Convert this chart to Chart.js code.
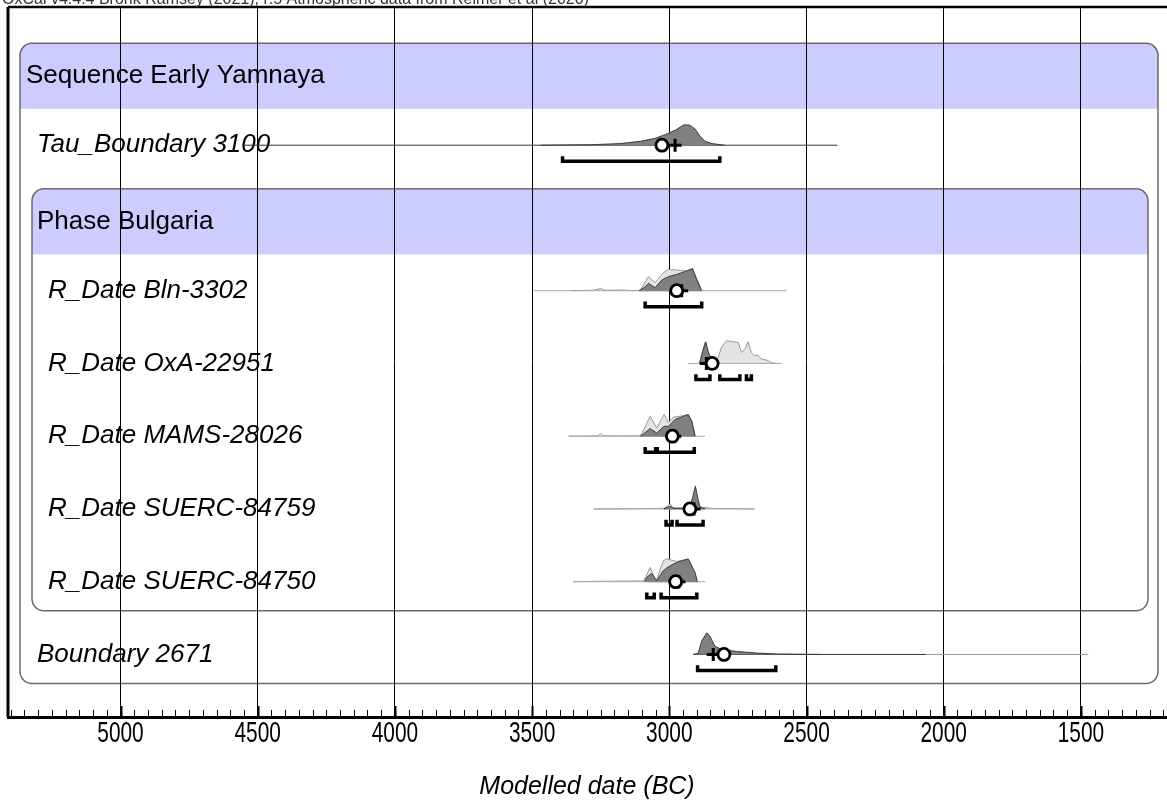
<!DOCTYPE html>
<html>
<head>
<meta charset="utf-8">
<script src="https://cdn.jsdelivr.net/npm/chart.js@4.4.1/dist/chart.umd.min.js"></script>
<style>
  html, body { margin: 0; padding: 0; background: #fff; overflow: hidden; }
  #wrap { position: relative; width: 1167px; height: 803px; }
</style>
</head>
<body>
<div id="wrap"><canvas id="chart" width="1167" height="803"></canvas></div>
<script>
// --- data (years BC, relative probability 0..1) ---
const caption = "OxCal v4.4.4 Bronk Ramsey (2021); r:5 Atmospheric data from Reimer et al (2020)";
const xTitle = "Modelled date (BC)";
const xTicks = [5000, 4500, 4000, 3500, 3000, 2500, 2000, 1500];

const rowNames = [
  "Sequence Early Yamnaya",
  "Tau_Boundary 3100",
  "Phase Bulgaria",
  "R_Date Bln-3302",
  "R_Date OxA-22951",
  "R_Date MAMS-28026",
  "R_Date SUERC-84759",
  "R_Date SUERC-84750",
  "Boundary 2671"
];
const rowKinds = ["group", "item", "group", "item", "item", "item", "item", "item", "item"];
const rowIndent = [0, 1, 1, 2, 2, 2, 2, 2, 1];

// Tau_Boundary 3100
const tauPost = [[3469,0],[3288,0.02],[3179,0.07],[3106,0.17],[3052,0.3],[3015,0.46],[2979,0.65],[2946,0.89],[2925,0.87],[2906,0.7],[2888,0.39],[2870,0.17],[2845,0.07],[2798,0]];
const tauSpan = [4555, 2388];
const tauRange = [[3389, 2816]];
const tauMeanMedian = [3027, 2979];

// R_Date Bln-3302
const blnLike = [[3354,0],[3280,0.02],[3260,0.06],[3251,0.1],[3235,0.02],[3168,0.03],[3130,0],[3106,0.02],[3076,0.61],[3052,0.35],[3022,0.78],[3003,0.93],[2973,0.9],[2937,0.86],[2918,0.96],[2896,0.4],[2882,0]];
const blnPost = [[3110,0],[3090,0.15],[3076,0.32],[3052,0.13],[3027,0.47],[3003,0.61],[2973,0.71],[2937,0.86],[2915,0.96],[2900,0.48],[2882,0]];
const blnSpan = [3495, 2572];
const blnRange = [[3088, 2882]];
const blnMeanMedian = [2973, 2955];

// R_Date OxA-22951
const oxaLike = [[2890,0],[2879,0.5],[2870,0.9],[2860,0.5],[2846,0.15],[2828,0.04],[2810,0.7],[2791,0.99],[2773,0.96],[2749,0.91],[2737,0.48],[2725,0.61],[2713,0.94],[2701,0.48],[2689,0.33],[2677,0.36],[2664,0.19],[2644,0.14],[2628,0.04],[2610,0]];
const oxaPost = [[2890,0],[2879,0.5],[2867,0.94],[2858,0.5],[2846,0.17],[2830,0]];
const oxaSpan = [2932, 2591];
const oxaRange = [[2903, 2852], [2816, 2743], [2719, 2701]];
const oxaMeanMedian = [2844, 2865];

// R_Date MAMS-28026
const mamsLike = [[3367,0],[3290,0.01],[3260,0.02],[3251,0.12],[3240,0.02],[3190,0.01],[3110,0.02],[3100,0.1],[3070,0.87],[3046,0.36],[3019,0.94],[3003,0.58],[2985,0.83],[2961,0.87],[2931,0.94],[2918,0.65],[2906,0]];
const mamsPost = [[3105,0],[3094,0.1],[3070,0.33],[3046,0.14],[3019,0.43],[3003,0.43],[2979,0.73],[2931,0.94],[2918,0.65],[2906,0]];
const mamsSpan = [3367, 2870];
const mamsRange = [[3088, 3050], [3044, 2909]];
const mamsMeanMedian = [2989, 2980];

// R_Date SUERC-84759
const s759Like = [[3276,0],[3090,0.01],[3020,0.03],[3005,0.15],[2997,0.22],[2988,0.08],[2975,0.03],[2950,0.05],[2925,0.15],[2905,0.3],[2888,0.08],[2840,0.02],[2689,0]];
const s759Post = [[3020,0],[2997,0.12],[2985,0.03],[2940,0.03],[2925,0.12],[2915,0.5],[2905,0.99],[2895,0.4],[2888,0.08],[2870,0]];
const s759Span = [3276, 2689];
const s759Range = [[3012, 2990], [2972, 2877]];
const s759MeanMedian = [2925, 2910];

// R_Date SUERC-84750
const s750Like = [[3351,0],[3240,0.02],[3094,0.03],[3082,0.3],[3070,0.62],[3052,0.12],[3046,0.1],[3022,0.91],[3009,0.99],[2973,0.88],[2931,0.99],[2913,0.48],[2900,0]];
const s750Post = [[3090,0],[3082,0.19],[3064,0.36],[3046,0.04],[3022,0.48],[3003,0.65],[2973,0.84],[2931,0.99],[2906,0.4],[2898,0]];
const s750Span = [3351, 2870];
const s750Range = [[3082, 3055], [3030, 2900]];
const s750MeanMedian = [2977, 2965];

// Boundary 2671
const bndPost = [[2913,0],[2895,0.05],[2882,0.58],[2864,0.94],[2852,0.8],[2834,0.36],[2810,0.22],[2755,0.13],[2682,0.06],[2610,0.02],[2450,0]];
const bndSpan = [2913, 2065, 1473];
const bndRange = [[2897, 2612]];
const bndMeanMedian = [2801, 2840];

// --- styling ---
const FONT = '"Liberation Sans", Arial, sans-serif';
const PEAK = 0.316;     // height of a full peak, in rows
const BAR_Y = 0.22;     // bracket offset below baseline, in rows
const CAP_Y = 0.15;
const LIGHT = "#e4e4e4", LIGHT_EDGE = "#9a9a9a";
const DARK = "#808080", DARK_EDGE = "#3a3a3a";

const datasets = [];
const pts = (arr, row) => arr.map(([x, p]) => ({ x: x, y: row - p * PEAK }));

function addLine(from, to, row, color) {
  datasets.push({ data: [{ x: from, y: row }, { x: to, y: row }], borderColor: color,
    borderWidth: 1, pointRadius: 0, order: 5 });
}
function addDensity(arr, row, fill, edge, order) {
  datasets.push({ data: pts(arr, row), borderColor: edge, backgroundColor: fill,
    borderWidth: 1, pointRadius: 0, fill: { value: row }, order: order });
}
function addRange(ranges, row) {
  const d = [];
  ranges.forEach(([a, b]) => {
    d.push({ x: a, y: row + CAP_Y }, { x: a, y: row + BAR_Y }, { x: b, y: row + BAR_Y }, { x: b, y: row + CAP_Y }, { x: b, y: null });
  });
  datasets.push({ data: d, borderColor: "#000", borderWidth: 3.5, pointRadius: 0,
    borderJoinStyle: "miter", borderCapStyle: "butt", order: 3 });
}
function addMarks(mm, row) {
  datasets.push({ data: [{ x: mm[1], y: row }], showLine: false, pointStyle: "cross",
    pointRadius: 6.5, pointBorderWidth: 3, pointBorderColor: "#000", order: 2 });
  datasets.push({ data: [{ x: mm[0], y: row }], showLine: false, pointStyle: "circle",
    pointRadius: 6, pointBorderWidth: 2.8, pointBorderColor: "#000",
    pointBackgroundColor: "#fff", order: 1 });
}

// Tau boundary
addLine(tauSpan[0], tauSpan[1], 1, "#333");
addDensity(tauPost, 1, DARK, DARK_EDGE, 4);
addRange(tauRange, 1);
addMarks(tauMeanMedian, 1);

// R_Dates
[[blnLike, blnPost, blnSpan, blnRange, blnMeanMedian, 3],
 [oxaLike, oxaPost, oxaSpan, oxaRange, oxaMeanMedian, 4],
 [mamsLike, mamsPost, mamsSpan, mamsRange, mamsMeanMedian, 5],
 [s759Like, s759Post, s759Span, s759Range, s759MeanMedian, 6],
 [s750Like, s750Post, s750Span, s750Range, s750MeanMedian, 7]
].forEach(([like, post, span, range, mm, row]) => {
  addLine(span[0], span[1], row, "#aaa");
  addLine(post[0][0], post[post.length - 1][0], row, "#555");
  addDensity(like, row, LIGHT, LIGHT_EDGE, 6);
  addDensity(post, row, DARK, DARK_EDGE, 4);
  addRange(range, row);
  addMarks(mm, row);
});

// end boundary
addLine(bndSpan[0], bndSpan[1], 8, "#333");
addLine(bndSpan[1], bndSpan[2], 8, "#999");
addDensity(bndPost, 8, DARK, DARK_EDGE, 4);
addRange(bndRange, 8);
addMarks(bndMeanMedian, 8);

// boxes, labels, frame, minor ticks and the narrow tick labels
const oxcalPlugin = {
  id: "oxcal",
  beforeDraw(chart) {
    const { ctx, chartArea: a, scales: { y } } = chart;
    const box = (r0, r1, inL, inR) => {
      const top = y.getPixelForValue(r0 - 0.4), band = y.getPixelForValue(r0 + 0.5);
      const bot = y.getPixelForValue(r1 + 0.4);
      const l = a.left + inL, r = a.right - inR;
      ctx.save();
      ctx.beginPath();
      ctx.roundRect(l, top, r - l, bot - top, 12);
      ctx.fillStyle = "#fff";
      ctx.fill();
      ctx.clip();
      ctx.fillStyle = "#ccccff";
      ctx.fillRect(l, top, r - l, band - top);
      ctx.restore();
      ctx.save();
      ctx.beginPath();
      ctx.roundRect(l, top, r - l, bot - top, 12);
      ctx.strokeStyle = "#6a6a6a";
      ctx.lineWidth = 1.5;
      ctx.stroke();
      ctx.restore();
    };
    box(0, 8, 12, 8);
    box(2, 7, 24, 18);
  },
  beforeDatasetsDraw(chart) {
    const { ctx, chartArea: a, scales: { y } } = chart;
    ctx.save();
    ctx.fillStyle = "#000";
    ctx.textAlign = "left";
    ctx.textBaseline = "middle";
    rowNames.forEach((name, i) => {
      const group = rowKinds[i] === "group";
      const yy = group ? (y.getPixelForValue(i - 0.4) + y.getPixelForValue(i + 0.5)) / 2 : y.getPixelForValue(i);
      ctx.font = (group ? "" : "italic ") + "26px " + FONT;
      ctx.fillText(name, a.left + 18 + rowIndent[i] * 11, yy);
    });
    ctx.restore();
  },
  afterDraw(chart) {
    const { ctx, chartArea: a, scales: { x } } = chart;
    ctx.save();
    ctx.strokeStyle = "#000";
    ctx.lineWidth = 3;
    ctx.beginPath();
    ctx.moveTo(a.left, a.bottom);
    ctx.lineTo(a.left, a.top);
    ctx.stroke();
    ctx.lineWidth = 2.5;
    ctx.beginPath();
    ctx.moveTo(a.left, a.top);
    ctx.lineTo(a.right + 2, a.top);
    ctx.stroke();
    for (let v = 1200; v <= 5400; v += 50) {
      const px = Math.round(x.getPixelForValue(v)) + 0.5;
      const major = v % 500 === 0;
      ctx.lineWidth = major ? 2 : 1;
      ctx.beginPath();
      ctx.moveTo(px, a.bottom);
      ctx.lineTo(px, a.bottom - (major ? 11 : 7));
      ctx.stroke();
    }
    // tick labels: OxCal's labels are horizontally condensed
    ctx.fillStyle = "#000";
    ctx.font = "29px " + FONT;
    ctx.textAlign = "center";
    ctx.textBaseline = "middle";
    xTicks.forEach(v => {
      ctx.save();
      ctx.translate(x.getPixelForValue(v), a.bottom + 17);
      ctx.scale(0.72, 1);
      ctx.fillText(String(v), 0, 0);
      ctx.restore();
    });
    ctx.fillStyle = "#333";
    ctx.font = "16px " + FONT;
    ctx.textAlign = "left";
    ctx.textBaseline = "alphabetic";
    ctx.fillText(caption, 2, 4);
    ctx.restore();
  }
};

new Chart(document.getElementById("chart"), {
  type: "line",
  data: { datasets: datasets },
  options: {
    responsive: false,
    animation: false,
    events: [],
    layout: { autoPadding: false, padding: { top: 7, left: 8, right: 1, bottom: 0 } },
    elements: { line: { tension: 0 } },
    plugins: { legend: { display: false }, tooltip: { enabled: false } },
    scales: {
      x: {
        type: "linear",
        reverse: true,
        min: 1190,
        max: 5410,
        afterBuildTicks: (axis) => { axis.ticks = xTicks.map(v => ({ value: v })); },
        afterFit: (axis) => { axis.paddingLeft = 0; axis.paddingRight = 0; },
        ticks: { display: false },
        grid: { color: "#000", lineWidth: 1, drawTicks: false },
        border: { display: true, color: "#000", width: 3 },
        title: {
          display: true,
          text: xTitle,
          color: "#000",
          font: { family: FONT, size: 25, style: "italic" },
          padding: { top: 55, bottom: 1 }
        }
      },
      y: { display: false, reverse: true, min: -0.9, max: 8.86 }
    }
  },
  plugins: [oxcalPlugin]
});
</script>
</body>
</html>
